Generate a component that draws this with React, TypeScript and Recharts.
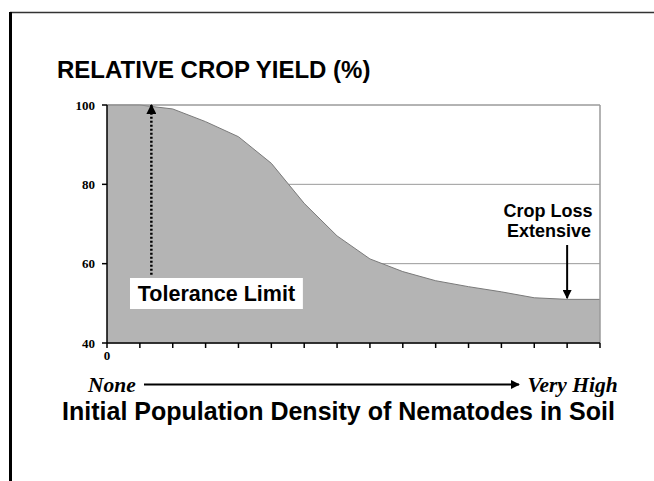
import React from "react";
import {
  AreaChart,
  Area,
  XAxis,
  YAxis,
  CartesianGrid,
  ReferenceLine,
  ReferenceArea,
} from "recharts";

const densitySteps = [0, 1, 2, 3, 4, 5, 6, 7, 8, 9, 10, 11, 12, 13, 14, 15];
const relativeYield = [100, 100, 99, 95.8, 92, 85.3, 75.2, 67, 61.2, 58, 55.7, 54.2, 52.9, 51.4, 51, 51];
const yTicks = [40, 60, 80, 100];
const xTickLabels = ["0"];

const toleranceX = 1.35;
const toleranceTop = 100;
const toleranceBottom = 57.2;
const toleranceBox = { x1: 0.7, x2: 5.96, y1: 48.6, y2: 56.4 };
const lossX = 14;
const lossTop = 64.7;
const lossBottom = 51.3;

const data = densitySteps.map((d, i) => ({ d, y: relativeYield[i] }));

const ARIAL = "Arial, 'Liberation Sans', sans-serif";
const TIMES = "'Times New Roman', 'Liberation Serif', serif";

const BoxLabel = (props: any) => {
  const vb = props.viewBox || {};
  const cx = (vb.x || 0) + (vb.width || 0) / 2;
  const cy = (vb.y || 0) + (vb.height || 0) / 2;
  return (
    <text x={cx} y={cy + 7.5} textAnchor="middle" fontFamily={ARIAL} fontWeight="bold" fontSize={21.5} fill="#000">
      Tolerance Limit
    </text>
  );
};

export default function App() {
  return (
    <div style={{ position: "absolute", left: 0, top: 0, width: 654, height: 481, background: "#fff" }}>
      <svg width={0} height={0} style={{ position: "absolute" }}>
        <defs>
          <marker id="arrowHead" viewBox="0 0 10 10" refX="9" refY="5" markerWidth="4" markerHeight="4" orient="auto" markerUnits="strokeWidth">
            <path d="M0,0 L10,5 L0,10 z" fill="#000" />
          </marker>
          <marker id="arrowHeadSmall" viewBox="0 0 10 10" refX="9" refY="5" markerWidth="4.5" markerHeight="4.5" orient="auto" markerUnits="strokeWidth">
            <path d="M0,0 L10,5 L0,10 z" fill="#000" />
          </marker>
        </defs>
      </svg>
      <AreaChart
        width={654}
        height={481}
        data={data}
        margin={{ top: 105, right: 54, bottom: 118, left: 47 }}
      >
        <CartesianGrid vertical={false} stroke="#9a9a9a" strokeWidth={1} />
        <XAxis
          dataKey="d"
          type="number"
          domain={[0, 15]}
          ticks={densitySteps}
          height={20}
          interval={0}
          axisLine={{ stroke: "#000", strokeWidth: 1.5 }}
          tickLine={{ stroke: "#000", strokeWidth: 1.5 }}
          tickSize={5}
          tickMargin={3}
          tick={{ fontFamily: TIMES, fontWeight: "bold", fontSize: 13, fill: "#000" }}
          tickFormatter={(v: number) => (v === 0 ? xTickLabels[0] : "")}
        />
        <YAxis
          domain={[40, 100]}
          ticks={yTicks}
          width={60}
          interval={0}
          axisLine={{ stroke: "#000", strokeWidth: 1.5 }}
          tickLine={{ stroke: "#000", strokeWidth: 1.5 }}
          tickSize={5}
          tickMargin={7}
          tick={{ fontFamily: TIMES, fontWeight: "bold", fontSize: 13, fill: "#000" }}
        />
        <Area
          type="linear"
          dataKey="y"
          stroke="#7a7a7a"
          strokeWidth={1}
          fill="#b4b4b4"
          fillOpacity={1}
          isAnimationActive={false}
          dot={false}
          activeDot={false}
          baseValue={40}
        />
        <ReferenceLine x={15} stroke="#9a9a9a" strokeWidth={1.5} />
        <ReferenceLine y={100} stroke="#9a9a9a" strokeWidth={1} />
        <ReferenceLine
          segment={[
            { x: toleranceX, y: toleranceBottom },
            { x: toleranceX, y: toleranceTop },
          ]}
          stroke="#000"
          strokeWidth={2.5}
          strokeDasharray="2 2"
          markerEnd="url(#arrowHead)"
        />
        <ReferenceArea
          x1={toleranceBox.x1}
          x2={toleranceBox.x2}
          y1={toleranceBox.y1}
          y2={toleranceBox.y2}
          fill="#fff"
          fillOpacity={1}
          stroke="none"
          label={<BoxLabel />}
        />
        <ReferenceLine
          segment={[
            { x: lossX, y: lossTop },
            { x: lossX, y: lossBottom },
          ]}
          stroke="#000"
          strokeWidth={2}
          markerEnd="url(#arrowHeadSmall)"
        />
      </AreaChart>
      <svg width={654} height={481} style={{ position: "absolute", left: 0, top: 0, pointerEvents: "none" }}>
        <line x1={10} y1={12.5} x2={654} y2={12.5} stroke="#333" strokeWidth={1.5} />
        <line x1={10.5} y1={12} x2={10.5} y2={481} stroke="#000" strokeWidth={3} />
        <text x={57} y={78} fontFamily={ARIAL} fontWeight="bold" fontSize={24} fill="#000">
          RELATIVE CROP YIELD (%)
        </text>
        <text x={548} y={217} textAnchor="middle" fontFamily={ARIAL} fontWeight="bold" fontSize={18} fill="#000">
          Crop Loss
        </text>
        <text x={549} y={237} textAnchor="middle" fontFamily={ARIAL} fontWeight="bold" fontSize={18} fill="#000">
          Extensive
        </text>
        <text x={88} y={392} fontFamily={TIMES} fontStyle="italic" fontWeight="bold" fontSize={21.5} fill="#000">
          None
        </text>
        <line x1={144} y1={384.5} x2={519} y2={384.5} stroke="#000" strokeWidth={2} markerEnd="url(#arrowHeadSmall)" />
        <text x={527.5} y={392} fontFamily={TIMES} fontStyle="italic" fontWeight="bold" fontSize={21.5} fill="#000">
          Very High
        </text>
        <text x={338.5} y={420} textAnchor="middle" fontFamily={ARIAL} fontWeight="bold" fontSize={25} fill="#000">
          Initial Population Density of Nematodes in Soil
        </text>
      </svg>
    </div>
  );
}
